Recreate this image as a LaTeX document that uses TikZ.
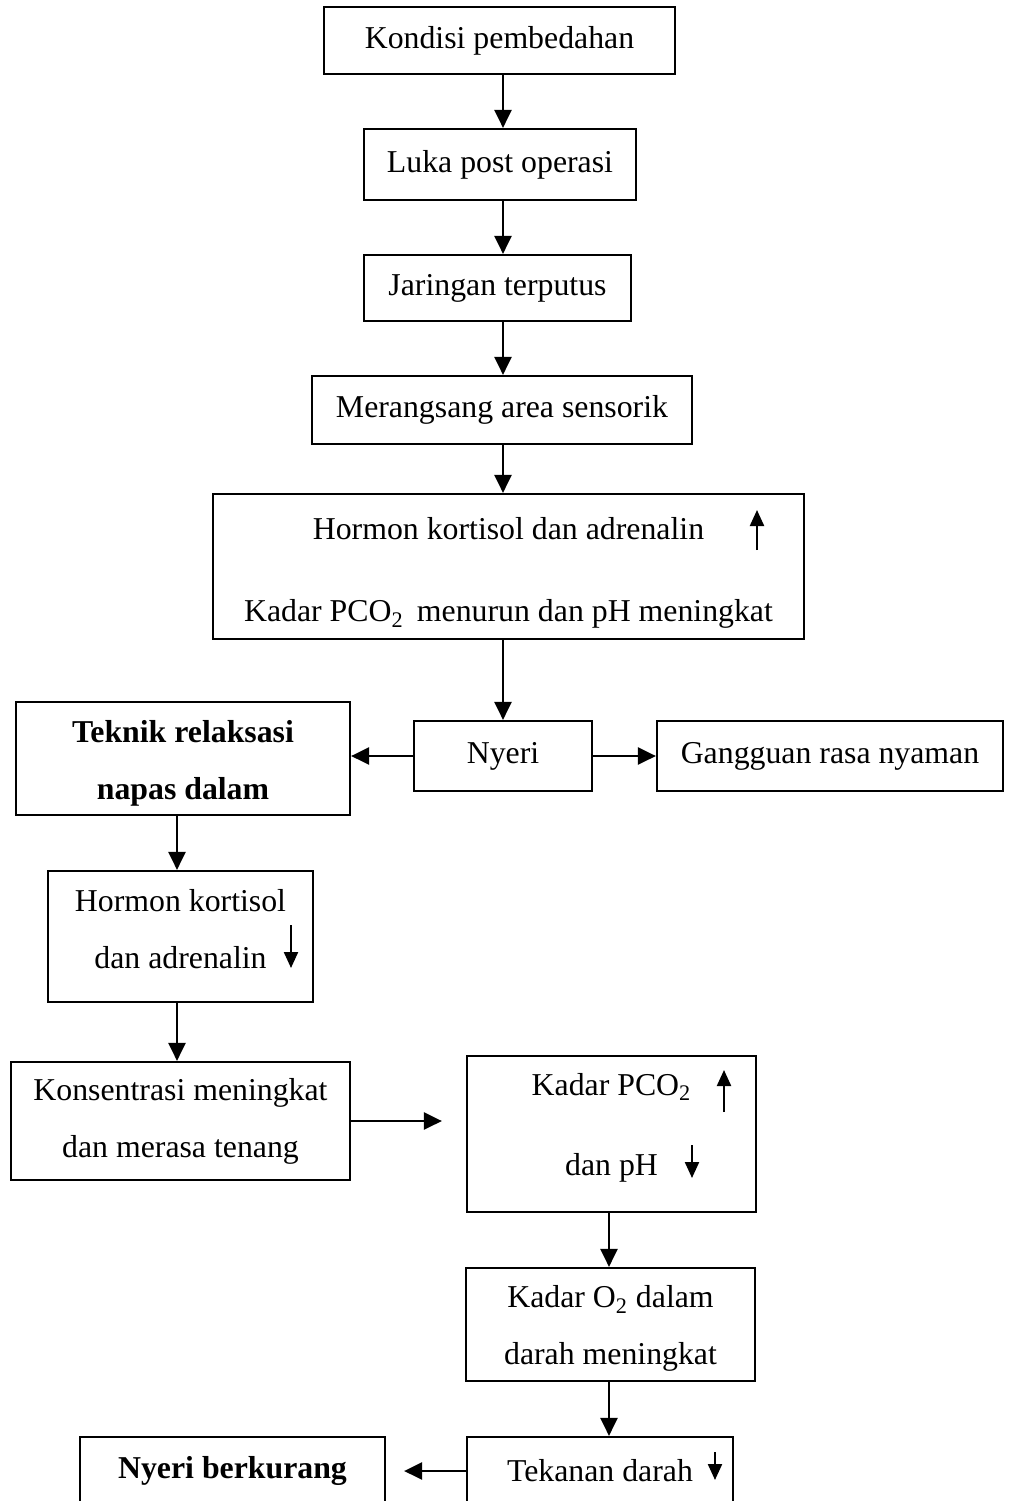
\documentclass[tikz,border=0pt]{standalone}
\usepackage{fontspec}
\setmainfont{Liberation Serif}
\usetikzlibrary{positioning, arrows.meta}
\tikzstyle{flowBox} = [shape=rectangle, draw=black, text=black, line width=1.1pt,
	align=center, fill=white, inner sep=0pt, font=\fontsize{15.9}{28.5}\selectfont]
\tikzstyle{flowArrow} = [line width=1.2pt, -{Triangle[length=9pt,width=8.5pt]}, draw=black]
\tikzstyle{signArrow} = [line width=1.1pt, -{Triangle[length=8pt,width=7pt]}, draw=black]

\begin{document}
\begin{tikzpicture}[x=0.5pt, y=-0.5pt]
  \useasboundingbox (0,0) rectangle (1008,1501);
  \clip (0,0) rectangle (1008,1501); % lower boxes run off the page
  \coordinate (midLine) at (503,0);
  \coordinate (leftLine) at (177,0);
  \coordinate (rightLine) at (609,0);

  \node (kondisi) at (499.5,40.5) [flowBox, minimum width=175.5pt, minimum height=33.5pt] {Kondisi pembedahan};
  \node (luka) at (500,164.5) [flowBox, minimum width=136pt, minimum height=35.5pt] {Luka post operasi};
  \node (jaringan) at (497.5,288) [flowBox, minimum width=133.5pt, minimum height=33pt] {Jaringan terputus};
  \node (rangsang) at (502,410) [flowBox, minimum width=190pt, minimum height=34pt] {Merangsang area sensorik};
  \node (stres) at (508.5,566.5) [flowBox, minimum width=295.5pt, minimum height=72.5pt]
    {\mbox{}\\[-10.6pt] Hormon kortisol dan adrenalin\\[12.5pt] Kadar PCO\textsubscript{2}\, menurun dan pH meningkat};

  \node (nyeri) at (503,756) [flowBox, minimum width=89pt, minimum height=35pt] {Nyeri};
  \node (gangguan) at (830,756) [flowBox, minimum width=173pt, minimum height=35pt] {Gangguan rasa nyaman};
  \node (teknik) at (183,758.5) [flowBox, minimum width=167pt, minimum height=56.5pt]
    {\mbox{}\\[-13.1pt] \bfseries Teknik relaksasi\\ \bfseries napas dalam};

  \node (hormon) at (180.5,936.5) [flowBox, minimum width=132.5pt, minimum height=65.5pt]
    {Hormon kortisol\\ dan adrenalin\\[-21pt]};
  \node (konsen) at (180.5,1121) [flowBox, minimum width=169.5pt, minimum height=59pt]
    {Konsentrasi meningkat\\ dan merasa tenang};

  \node (pco) at (611.5,1134) [flowBox, minimum width=144.5pt, minimum height=78pt]
    {Kadar PCO\textsubscript{2}\\[11.5pt] dan pH\\[-18.5pt]};
  \node (oksigen) at (610.5,1324.5) [flowBox, minimum width=144.5pt, minimum height=56.5pt]
    {\mbox{}\\[-13.1pt] Kadar O\textsubscript{2} dalam\\ darah meningkat};
  \node (tekanan) at (600,1471) [flowBox, minimum width=133pt, minimum height=34pt] {Tekanan darah};
  \node (berkurang) at (232.5,1471) [flowBox, minimum width=152.5pt, minimum height=34pt] {\bfseries Nyeri berkurang};

  \draw [flowArrow] (kondisi.south -| midLine) -- (luka.north -| midLine);
  \draw [flowArrow] (luka.south -| midLine) -- (jaringan.north -| midLine);
  \draw [flowArrow] (jaringan.south -| midLine) -- (rangsang.north -| midLine);
  \draw [flowArrow] (rangsang.south -| midLine) -- (stres.north -| midLine);
  \draw [flowArrow] (stres.south -| midLine) -- (nyeri.north -| midLine);
  \draw [flowArrow] (nyeri.west) -- (nyeri.west -| teknik.east);
  \draw [flowArrow] (nyeri.east) -- (gangguan.west);
  \draw [flowArrow] (teknik.south -| leftLine) -- (hormon.north -| leftLine);
  \draw [flowArrow] (hormon.south -| leftLine) -- (konsen.north -| leftLine);
  \draw [flowArrow] (konsen.east) -- ([xshift=-12pt]pco.west |- konsen.east);
  \draw [flowArrow] (pco.south -| rightLine) -- (oksigen.north -| rightLine);
  \draw [flowArrow] (oksigen.south -| rightLine) -- (tekanan.north -| rightLine);
  \draw [flowArrow] (tekanan.west) -- ([xshift=9pt]berkurang.east);

  \draw [signArrow] ([shift={(248.5,-16.5)}]stres.center) -- ++(0,-40);
  \draw [signArrow] ([shift={(110.5,-11.5)}]hormon.center) -- ++(0,43);
  \draw [signArrow] ([shift={(112.5,-22)}]pco.center) -- ++(0,-42);
  \draw [signArrow] ([shift={(80.5,11)}]pco.center) -- ++(0,33);
  \draw [signArrow] ([shift={(115,-19)}]tekanan.center) -- ++(0,28);
\end{tikzpicture}
\end{document}
